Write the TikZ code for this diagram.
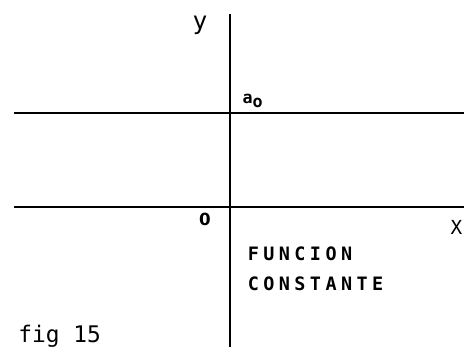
\documentclass[tikz,border=0pt]{standalone}
\usepackage{fontspec}
\setmainfont{DejaVu Sans Mono}
\newfontfamily\plainsans{DejaVu Sans}
\newfontfamily\spaced[LetterSpace=24]{DejaVu Sans Mono}
\tikzset{
  axis/.style={line width=1.2pt},
}
\begin{document}
\begin{tikzpicture}[every node/.style={inner sep=0pt}]
  \useasboundingbox (0,0) rectangle (9.28,6.94);
  % axes
  \coordinate (ytop) at (4.6,6.66);
  \coordinate (ybot) at (4.6,0);
  \coordinate (xl) at (0.28,2.8);
  \coordinate (xr) at (9.28,2.8);
  \draw[axis] (ybot) -- (ytop);
  \draw[axis] (xl) -- (xr);
  % constant a_o
  \coordinate (cl) at (0.28,4.68);
  \coordinate (cr) at (9.28,4.68);
  \draw[axis] (cl) -- (cr);
  % labels
  \node[font=\fontsize{14pt}{14pt}\selectfont] (ylab) at (4.0,6.44) {y};
  \node[font=\fontsize{11pt}{11pt}\selectfont] (xlab) at (9.13,2.4) {X};
  \node[font=\fontsize{9.5pt}{10pt}\plainsans\bfseries] (orig) at (4.1,2.56) {0};
  \node[font=\fontsize{9.5pt}{10pt}\selectfont\bfseries] (a0) at (5.06,4.93) {a$_{\textbf{o}}$};
  \node[font=\fontsize{10.5pt}{11pt}\spaced\bfseries, anchor=west] (fun) at (4.95,1.86) {FUNCION};
  \node[font=\fontsize{10.5pt}{11pt}\spaced\bfseries, anchor=west] (con) at (4.95,1.26) {CONSTANTE};
  \node[font=\fontsize{13pt}{13pt}\selectfont, anchor=west] (fig) at (0.36,0.22) {fig 15};
\end{tikzpicture}
\end{document}
